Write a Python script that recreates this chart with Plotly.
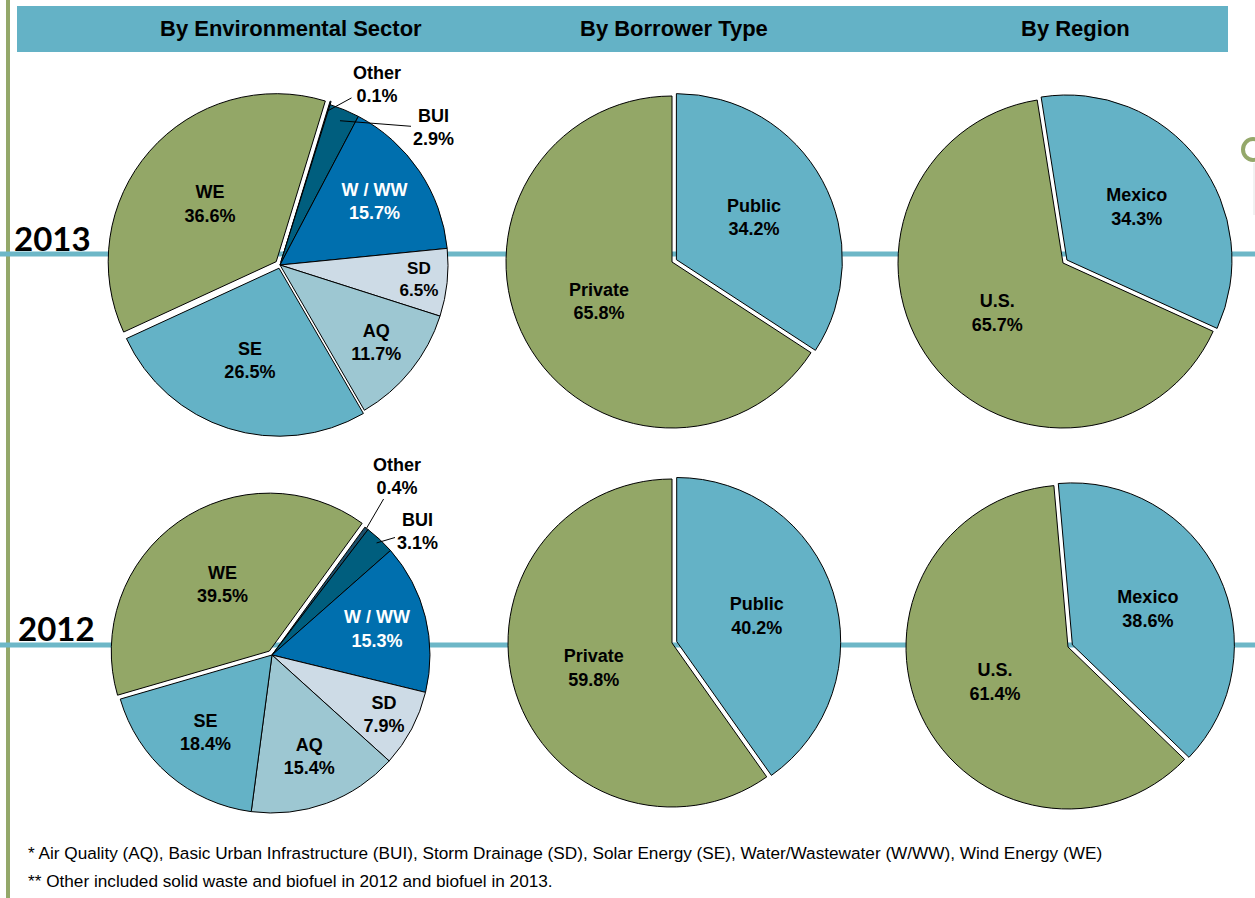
import math
import plotly.graph_objects as go

W, H = 1255, 898

# ---------------- data ----------------
sector_labels = ["Other", "BUI", "W / WW", "SD", "AQ", "SE", "WE"]
sector_2013 = [0.1, 2.9, 15.7, 6.5, 11.7, 26.5, 36.6]
sector_2012 = [0.4, 3.1, 15.3, 7.9, 15.4, 18.4, 39.5]

borrower_labels = ["Public", "Private"]
borrower_2013 = [34.2, 65.8]
borrower_2012 = [40.2, 59.8]

region_labels = ["Mexico", "U.S."]
region_2013 = [34.3, 65.7]
region_2012 = [38.6, 61.4]

column_titles = ["By Environmental Sector", "By Borrower Type", "By Region"]
year_labels = ["2013", "2012"]
footnotes = [
    "* Air Quality (AQ), Basic Urban Infrastructure (BUI), Storm Drainage (SD), Solar Energy (SE), Water/Wastewater (W/WW), Wind Energy (WE)",
    "** Other included solid waste and biofuel in 2012 and biofuel in 2013.",
]

# ---------------- styles ----------------
GREEN = "#93a767"
TEAL = "#64b2c6"
sector_colors = ["#1b4f6b", "#005e7e", "#006fae", "#cddbe6", "#9dc7d2", TEAL, GREEN]
sector_text_colors = ["black", "black", "white", "black", "black", "black", "black"]
sector_textpos = ["none", "none", "inside", "inside", "inside", "inside", "inside"]
FONT = "Liberation Sans, Arial, sans-serif"


def px_x(x):
    return x / W


def px_y(y):
    return 1 - y / H


def domain(cx, cy, r, maxpull):
    half = r * (1 + maxpull)
    return dict(x=[px_x(cx - half), px_x(cx + half)],
                y=[px_y(cy + half), px_y(cy - half)])


def pie(labels, values, colors, cx, cy, r, rotation, pull, textcolors=None, textpos="inside"):
    return go.Pie(
        labels=labels, values=values, sort=False, direction="clockwise",
        rotation=rotation, pull=pull,
        marker=dict(colors=colors, line=dict(color="black", width=1)),
        texttemplate="%{label}<br>%{value:.1f}%",
        textposition=textpos,
        insidetextorientation="horizontal",
        textfont=dict(family=FONT, size=18, weight="bold",
                      color=textcolors if textcolors else "black"),
        domain=domain(cx, cy, r, max(pull)),
        showlegend=False, hoverinfo="label+percent",
    )


# pie geometry (pixel centres/radii)
S13 = dict(cx=280, cy=265, r=168, rotation=17)
S12 = dict(cx=272, cy=655, r=158, rotation=36)
B13 = dict(cx=672, cy=262, r=166, rotation=0)
B12 = dict(cx=672, cy=643, r=164, rotation=0)
R13 = dict(cx=1063, cy=263, r=165, rotation=-9)
R12 = dict(cx=1068, cy=647, r=162, rotation=-5)

fig = go.Figure()
fig.add_trace(pie(sector_labels, sector_2013, sector_colors, **S13,
                  pull=[0.02, 0, 0, 0, 0, 0.02, 0.03],
                  textcolors=sector_text_colors, textpos=sector_textpos))
fig.add_trace(pie(sector_labels, sector_2012, sector_colors, **S12,
                  pull=[0, 0, 0, 0, 0, 0, 0.03],
                  textcolors=sector_text_colors, textpos=sector_textpos))
fig.add_trace(pie(borrower_labels, borrower_2013, [TEAL, GREEN], **B13, pull=[0.03, 0]))
fig.add_trace(pie(borrower_labels, borrower_2012, [TEAL, GREEN], **B12, pull=[0.03, 0]))
fig.add_trace(pie(region_labels, region_2013, [TEAL, GREEN], **R13, pull=[0.03, 0]))
fig.add_trace(pie(region_labels, region_2012, [TEAL, GREEN], **R12, pull=[0.03, 0]))


def slice_point(geo, values, idx, frac):
    total = sum(values)
    before = sum(values[:idx])
    ang = math.radians(geo["rotation"] + 360 * (before + values[idx] / 2) / total)
    x = geo["cx"] + geo["r"] * frac * math.sin(ang)
    y = geo["cy"] - geo["r"] * frac * math.cos(ang)
    return x, y


annotations = []

# small-slice labels with leader lines
small_labels = [
    (S13, sector_2013, 0, 0.96, (377, 84)),
    (S13, sector_2013, 1, 0.93, (433, 128)),
    (S12, sector_2012, 0, 1.00, (397, 476)),
    (S12, sector_2012, 1, 0.97, (417, 531)),
]
for geo, vals, idx, frac, (tx, ty) in small_labels:
    hx, hy = slice_point(geo, vals, idx, frac)
    annotations.append(dict(
        x=px_x(hx), y=px_y(hy), xref="paper", yref="paper",
        ax=tx - hx, ay=ty - hy, axref="pixel", ayref="pixel",
        text=f"{sector_labels[idx]}<br>{vals[idx]:.1f}%",
        showarrow=True, arrowhead=0, arrowwidth=1, arrowcolor="black", standoff=0,
        font=dict(family=FONT, size=18, color="black", weight="bold"),
    ))

# column titles
for title, cx in zip(column_titles, [291, 674, 1075]):
    annotations.append(dict(
        x=px_x(cx), y=px_y(29), xref="paper", yref="paper", text=title,
        showarrow=False, xanchor="center", yanchor="middle",
        font=dict(family=FONT, size=22, color="black", weight="bold"),
    ))

# year labels
for yl, (x, y) in zip(year_labels, [(12, 238), (16, 628)]):
    annotations.append(dict(
        x=px_x(x), y=px_y(y), xref="paper", yref="paper", text=yl,
        showarrow=False, xanchor="left", yanchor="middle",
        font=dict(family="Lato, DejaVu Sans, sans-serif", size=33, color="black", weight="bold"),
    ))

# footnotes
for fn, y in zip(footnotes, [853, 881]):
    annotations.append(dict(
        x=px_x(26), y=px_y(y), xref="paper", yref="paper", text=fn,
        showarrow=False, xanchor="left", yanchor="middle",
        font=dict(family=FONT, size=17.2, color="black"),
    ))

shapes = [
    # header bar
    dict(type="rect", xref="paper", yref="paper", x0=px_x(17), x1=px_x(1228),
         y0=px_y(52), y1=px_y(6), fillcolor=TEAL, line=dict(width=0), layer="below"),
    # left vertical green rule
    dict(type="line", xref="paper", yref="paper", x0=px_x(8), x1=px_x(8),
         y0=0, y1=1, line=dict(color="#94a86a", width=4), layer="below"),
    # horizontal teal rules
    dict(type="line", xref="paper", yref="paper", x0=0, x1=1,
         y0=px_y(254), y1=px_y(254), line=dict(color="#6db7c7", width=5), layer="below"),
    dict(type="line", xref="paper", yref="paper", x0=0, x1=1,
         y0=px_y(645), y1=px_y(645), line=dict(color="#6db7c7", width=5), layer="below"),
    # right-edge decoration
    dict(type="circle", xref="paper", yref="paper", x0=px_x(1243), x1=px_x(1263),
         y0=px_y(160), y1=px_y(139), line=dict(color="#94a86a", width=4), layer="below"),
    dict(type="line", xref="paper", yref="paper", x0=px_x(1254), x1=px_x(1254),
         y0=px_y(215), y1=px_y(163), line=dict(color="#e4e4e4", width=1), layer="below"),
]

fig.update_layout(
    width=W, height=H, margin=dict(l=0, r=0, t=0, b=0),
    paper_bgcolor="white", plot_bgcolor="white",
    annotations=annotations, shapes=shapes,
    font=dict(family=FONT),
)

fig.write_html(
    "out.html",
    config={"displayModeBar": False},
    post_script="document.body.style.margin='0';document.body.style.overflow='hidden';",
)
